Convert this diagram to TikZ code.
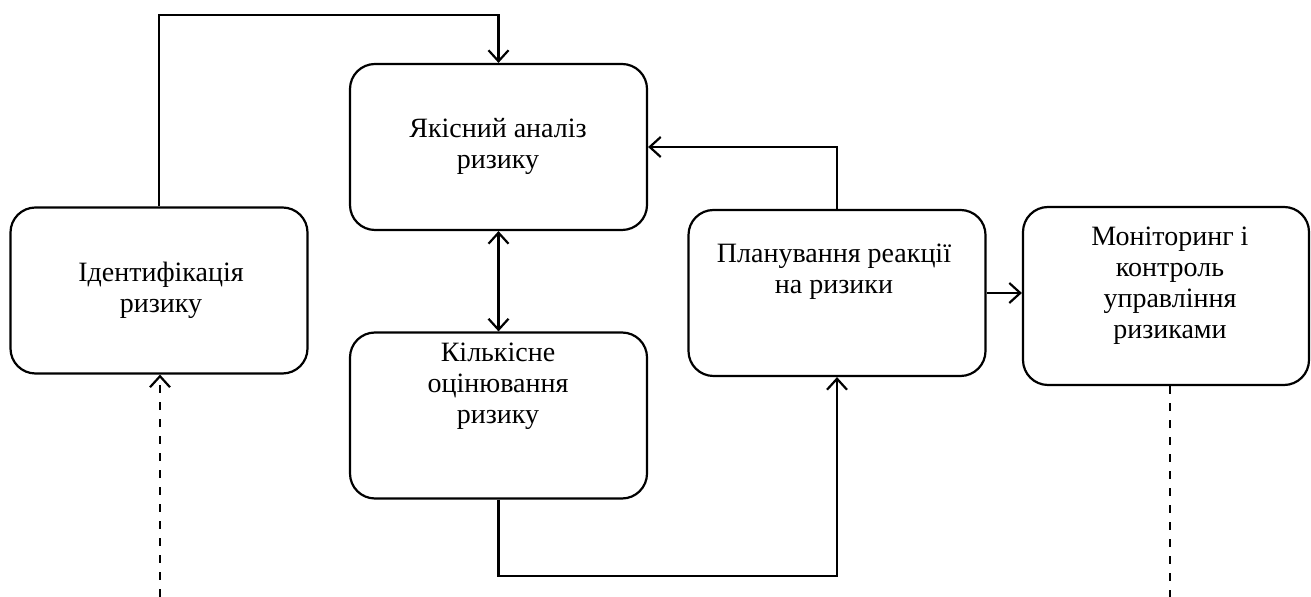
\documentclass[tikz,border=0pt]{standalone}
\usepackage{fontspec}
\setmainfont{Liberation Serif}
\usetikzlibrary{arrows.meta}

\begin{document}
\begin{tikzpicture}[x=0.5pt,y=-0.5pt,
	>={Straight Barb[length=5.5pt,width=10pt]},
	stage/.style={draw, line width=1.1pt, rounded corners=12.5pt,
		minimum width=148.5pt, minimum height=83pt, inner sep=0pt},
	caption/.style={align=center, font=\fontsize{14}{15.5}\selectfont},
	flow/.style={->, line width=1.1pt},
	feed/.style={line width=1.1pt, dash pattern=on 4pt off 4.5pt}
]
\useasboundingbox (0,0) rectangle (1311,597);

% stages
\node[stage] (ident) at (159,290.5) {};
\node[stage] (qual)  at (498.5,147) {};
\node[stage] (quant) at (498.5,415.5) {};
\node[stage] (plan)  at (837,293) {};
\node[stage, minimum width=143pt, minimum height=89pt] (mon) at (1166,296) {};

\node[caption] (identT) at (161,290) {Ідентифікація\\ризику};
\node[caption] (qualT)  at (498,146) {Якісний аналіз\\ризику};
\node[caption] (quantT) at (498,386) {Кількісне\\оцінювання\\ризику};
\node[caption] (planT)  at (834,272) {Планування реакції\\на ризики};
\node[caption] (monT)   at (1170,286) {Моніторинг і\\контроль\\управління\\ризиками};

% connectors
\coordinate (inS) at (160,597);
\coordinate (outS) at (1170,597);
\draw[flow] (ident.north) |- (498.5,15) -- (qual.north);
\draw[flow, <->] (qual) -- (quant);
\draw[flow] (quant.south) |- (837,576) -- (plan.south);
\draw[flow] (plan.north) |- (qual.east);
\draw[flow] (plan.east) -- (plan.east -| mon.west);
\draw[feed, ->] (inS) -- (ident.south -| inS);
\draw[feed] (mon.south -| outS) -- (outS);
\end{tikzpicture}
\end{document}
